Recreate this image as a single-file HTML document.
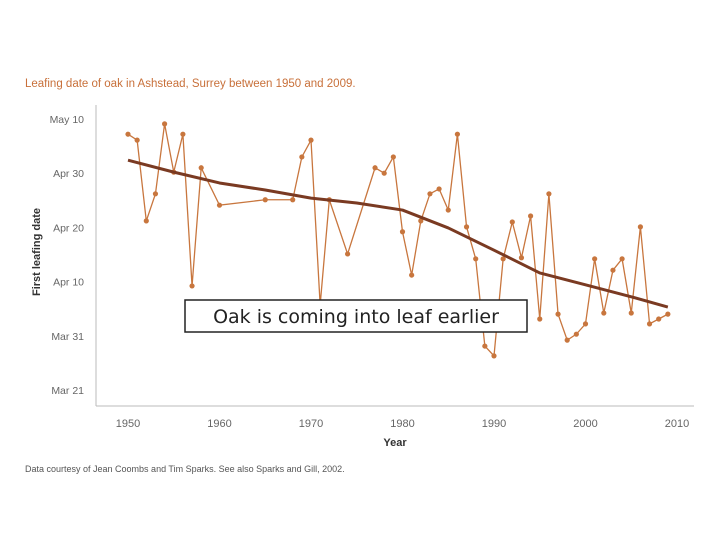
<!DOCTYPE html>
<html><head><meta charset="utf-8"><style>
body{margin:0;background:#fff;width:720px;height:540px;overflow:hidden;font-family:"Liberation Sans",sans-serif}
</style></head><body>
<svg width="720" height="540" id="c">
<text x="25" y="87" font-size="11.5" fill="#c8703a">Leafing date of oak in Ashstead, Surrey between 1950 and 2009.</text>
<line x1="96" y1="105" x2="96" y2="406" stroke="#bbb"/>
<line x1="96" y1="406" x2="694" y2="406" stroke="#bbb"/>
<text x="0" y="0" transform="translate(40,252) rotate(-90)" text-anchor="middle" font-size="11" font-weight="bold" fill="#333">First leafing date</text>
<text x="395" y="446" text-anchor="middle" font-size="11" font-weight="bold" fill="#333">Year</text>
<text x="25" y="472" font-size="9" fill="#555">Data courtesy of Jean Coombs and Tim Sparks. See also Sparks and Gill, 2002.</text>
<g id="g"></g>
<rect x="185" y="300" width="342" height="32" fill="#fff" stroke="#222" stroke-width="1.5"/>
<text x="356" y="323" text-anchor="middle" font-size="19" font-family="DejaVu Sans, sans-serif" fill="#222">Oak is coming into leaf earlier</text>
</svg>
<script>
const years=[1950,1951,1952,1953,1954,1955,1956,1957,1958,1960,1965,1968,1969,1970,1971,1972,1974,1977,1978,1979,1980,1981,1982,1983,1984,1985,1986,1987,1988,1989,1990,1991,1992,1993,1994,1995,1996,1997,1998,1999,2000,2001,2002,2003,2004,2005,2006,2007,2008,2009];
const days=[47.2,46.1,31.2,36.2,49.1,40.2,47.2,19.2,41,34.1,35.1,35.1,43,46.1,15.7,35.1,25.1,41,40,43,29.2,21.2,31.2,36.2,37.1,33.2,47.2,30.1,24.2,8.1,6.3,24.2,31,24.4,32.1,13.1,36.2,14,9.2,10.3,12.2,24.2,14.2,22.1,24.2,14.2,30.1,12.2,13.1,14];
const trendYears=[1950,1955,1960,1965,1970,1975,1980,1985,1990,1995,2000,2005,2009];
const trendDays=[42.4,40.2,38.2,36.9,35.4,34.5,33.2,29.9,25.8,21.6,19.4,17.2,15.3];
const xTicks=[1950,1960,1970,1980,1990,2000,2010];
const yTicks=[0,10,20,30,40,50];
const yLabels=["Mar 21","Mar 31","Apr 10","Apr 20","Apr 30","May 10"];
const X=v=>128+(v-1950)*(677-128)/60, Y=d=>390-d*5.42;
const g=document.getElementById('g'),NS="http://www.w3.org/2000/svg";
function mk(t,a){const e=document.createElementNS(NS,t);for(const k in a)e.setAttribute(k,a[k]);g.appendChild(e);return e;}
xTicks.forEach(t=>{const e=mk('text',{x:X(t),y:427,'text-anchor':'middle','font-size':11,fill:'#666'});e.textContent=t;

});
yTicks.forEach((t,i)=>{const e=mk('text',{x:84,y:Y(t)+4,'text-anchor':'end','font-size':10.5,fill:'#666'});e.textContent=yLabels[i];

});
const p=mk('polyline',{points:years.map((y,i)=>X(y)+','+Y(days[i])).join(' '),fill:'none',stroke:'#c8763e','stroke-width':1.3});


years.forEach((y,i)=>{const c=mk('circle',{cx:X(y),cy:Y(days[i]),r:2.6,fill:'#c8763e'});

});
const t=mk('polyline',{points:trendYears.map((y,i)=>X(y)+','+Y(trendDays[i])).join(' '),fill:'none',stroke:'#7a3a22','stroke-width':3,'stroke-linejoin':'round'});


</script>
</body></html>
